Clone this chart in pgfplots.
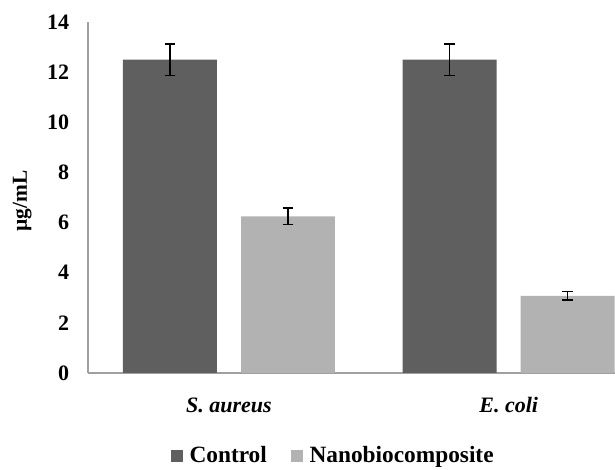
\documentclass[border=0pt]{standalone}
\usepackage{pgfplots}
\pgfplotsset{compat=1.18}
\usepackage{fontspec}
\setmainfont{Liberation Serif}
\definecolor{ctrl}{HTML}{5F5F5F}
\definecolor{nano}{HTML}{B2B2B2}
\definecolor{axgray}{HTML}{A0A0A0}
\begin{document}
\begin{tikzpicture}
\useasboundingbox (0,0) rectangle (461.25pt,352.5pt);
\begin{axis}[
  at={(66pt,72.75pt)}, anchor=south west,
  scale only axis,
  width=395.25pt, height=263.25pt,
  xmin=-0.504, xmax=1.38,
  ymin=0, ymax=14,
  ytick={0,2,...,14},
  xtick={0,1},
  xticklabels={\textit{S. aureus},\textit{E. coli}},
  axis x line*=bottom, axis y line*=left,
  axis line style={axgray, line width=1.1pt},
  x axis line style={-}, y axis line style={-},
  major tick length=0pt,
  /pgf/number format/assume math mode=true,
  tick label style={font=\bfseries\fontsize{16.5}{19}\selectfont},
  yticklabel style={anchor=east, inner sep=0pt, xshift=-14pt},
  xticklabel style={anchor=base, inner sep=0pt, yshift=-30pt},
  ylabel={\textmu g/mL},
  ylabel style={font=\bfseries\fontsize{16}{19}\selectfont, at={(axis description cs:-0.125,0.49)}, anchor=center},
  ybar, bar width=0.336,
  legend columns=2,
  legend style={draw=none, fill=none, at={(axis description cs:0.466,-0.236)}, anchor=center,
    font=\bfseries\fontsize{17.5}{20}\selectfont, inner sep=0pt,
    /tikz/every odd column/.append style={column sep=3pt},
    /tikz/every even column/.append style={column sep=16pt}},
  legend image code/.code={\fill[#1] (0pt,-4.5pt) rectangle (9pt,4.5pt);},
  error bars/error bar style={black, line width=1.1pt},
  error bars/error mark options={rotate=90, mark size=4pt, line width=1.1pt, black},
]
\addplot[fill=ctrl, draw=none, bar shift=-0.211,
  error bars/.cd, y dir=both, y explicit]
  coordinates {(0,12.5) +- (0,0.63) (1,12.5) +- (0,0.63)};
\addlegendentry{Control}
\addplot[fill=nano, draw=none, bar shift=0.211,
  error bars/.cd, y dir=both, y explicit]
  coordinates {(0,6.25) +- (0,0.33) (1,3.08) +- (0,0.16)};
\addlegendentry{Nanobiocomposite}
\end{axis}
\end{tikzpicture}
\end{document}
